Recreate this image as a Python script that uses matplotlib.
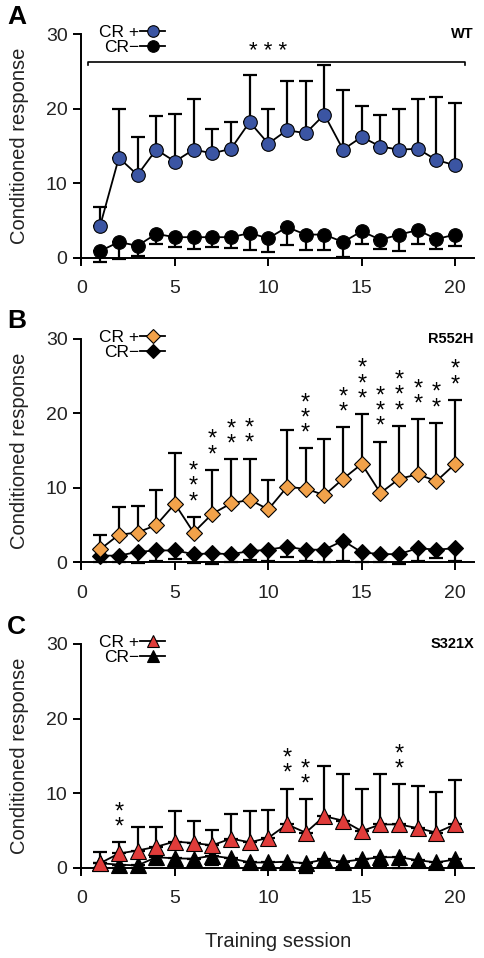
import numpy as np
import matplotlib
matplotlib.use("Agg")
import matplotlib.pyplot as plt
from matplotlib.lines import Line2D

plt.rcParams['font.family'] = ['Liberation Sans', 'DejaVu Sans']

sessions = list(range(1, 21))

# Panel A (WT)
wt_pos = [4.3, 13.4, 11.1, 14.5, 12.9, 14.5, 14.0, 14.6, 18.2, 15.3,
          17.1, 16.7, 19.2, 14.5, 16.2, 14.9, 14.5, 14.6, 13.1, 12.4]
wt_pos_top = [6.8, 20.0, 16.2, 19.0, 19.3, 21.3, 17.3, 18.2, 24.5, 20.0,
              23.7, 23.7, 25.9, 22.5, 20.4, 19.1, 20.0, 21.3, 21.6, 20.7]
wt_neg = [0.9, 2.1, 1.6, 3.2, 2.75, 2.75, 2.75, 2.75, 3.3, 2.6,
          4.1, 3.1, 3.1, 2.1, 3.55, 2.4, 3.1, 3.7, 2.5, 3.1]
wt_neg_bot = [-0.6, -0.2, 0.2, 1.8, 1.4, 1.2, 1.4, 1.3, 1.0, 0.8,
              1.7, 1.0, 1.0, 0.1, 1.9, 1.2, 0.9, 1.9, 1.2, 1.6]

# Panel B (R552H)
r_pos = [1.75, 3.7, 4.0, 5.0, 7.85, 4.0, 6.5, 7.9, 8.4, 7.1,
         10.1, 9.9, 9.0, 11.2, 13.2, 9.3, 11.2, 11.8, 10.9, 13.2]
r_pos_top = [3.7, 7.4, 7.6, 9.7, 14.6, 6.1, 12.4, 13.8, 13.9, 11.0,
             17.8, 15.3, 16.5, 18.1, 19.9, 16.2, 18.3, 19.2, 18.7, 21.8]
r_neg = [0.9, 0.9, 1.4, 1.6, 1.6, 1.1, 1.2, 1.1, 1.5, 1.7,
         2.1, 1.7, 1.7, 2.9, 1.35, 1.1, 1.1, 1.9, 1.7, 1.9]
r_neg_bot = [0.0, 0.0, -0.1, 0.2, 0.5, -0.1, -0.2, 0.0, 0.3, 0.2,
             0.7, 0.2, 0.0, 0.2, 0.0, 0.0, -0.2, 0.2, 0.6, 0.2]
r_stars = {6: 3, 7: 2, 8: 2, 9: 2, 12: 3, 14: 2, 15: 3, 16: 3, 17: 3, 18: 2, 19: 2, 20: 2}

# Panel C (S321X)
s_pos = [0.6, 1.9, 2.3, 2.8, 3.5, 3.3, 3.0, 3.9, 3.4, 4.0,
         5.8, 4.7, 6.9, 6.3, 4.9, 5.8, 5.8, 5.3, 4.7, 5.8]
s_pos_top = [2.1, 3.4, 5.5, 5.5, 7.6, 6.3, 5.1, 7.2, 7.6, 7.8,
             10.6, 9.2, 13.7, 12.5, 10.5, 12.5, 11.2, 11.0, 10.2, 11.7]
s_neg = [0.6, 0.4, 0.3, 1.4, 1.25, 1.2, 1.6, 1.25, 0.7, 0.7,
         0.8, 0.6, 1.1, 0.8, 1.1, 1.4, 1.4, 1.0, 0.7, 1.1]
s_neg_bot = [0.0, 0.0, 0.0, 0.3, 0.2, 0.2, 0.3, 0.3, 0.0, 0.0,
             0.1, -0.7, 0.2, 0.1, 0.2, 0.2, -0.1, 0.2, 0.1, 0.2]
s_stars = {2: 2, 11: 2, 12: 2, 17: 2}

panels = [
    dict(letter='A', name='WT', pos=wt_pos, top=wt_pos_top, neg=wt_neg, bot=wt_neg_bot,
         marker='o', color='#3B55A3', ms=9.8, stars={}, bottom=0.731),
    dict(letter='B', name='R552H', pos=r_pos, top=r_pos_top, neg=r_neg, bot=r_neg_bot,
         marker='D', color='#F2A24A', ms=8.6, stars=r_stars, bottom=0.413),
    dict(letter='C', name='S321X', pos=s_pos, top=s_pos_top, neg=s_neg, bot=s_neg_bot,
         marker='^', color='#E03C3A', ms=11, stars=s_stars, bottom=0.0943),
]

fig = plt.figure(figsize=(4.85, 9.58), dpi=100)

for p in panels:
    ax = fig.add_axes([0.168, p['bottom'], 0.809, 0.2335])
    x = np.array(sessions)
    pos = np.array(p['pos']); top = np.array(p['top'])
    neg = np.array(p['neg']); bot = np.array(p['bot'])
    # CR- (black), error bars downward
    ax.errorbar(x, neg, yerr=[neg - bot, np.zeros_like(neg)], fmt='none',
                ecolor='black', elinewidth=1.6, capsize=5, capthick=1.6, zorder=2)
    ax.plot(x, neg, color='black', lw=1.3, marker=p['marker'], ms=p['ms'],
            mfc='black', mec='black', mew=0.8, zorder=3)
    # CR+ (colour), error bars upward
    ax.errorbar(x, pos, yerr=[np.zeros_like(pos), top - pos], fmt='none',
                ecolor='black', elinewidth=1.6, capsize=5, capthick=1.6, zorder=4)
    ax.plot(x, pos, color='black', lw=1.3, marker=p['marker'], ms=p['ms'],
            mfc=p['color'], mec='black', mew=0.8, zorder=5)

    for s, n in p['stars'].items():
        ax.text(s, top[s - 1] + 0.5, '\n'.join(['*'] * n), ha='center', va='bottom',
                fontsize=17, linespacing=0.6, zorder=6)

    ax.set_xlim(0, 21)
    ax.set_ylim(0, 30)
    ax.set_xticks([0, 5, 10, 15, 20])
    ax.set_yticks([0, 10, 20, 30])
    ax.spines['top'].set_visible(False)
    ax.spines['right'].set_visible(False)
    ax.spines['left'].set_linewidth(1.4)
    ax.spines['bottom'].set_linewidth(1.4)
    ax.spines['left'].set_bounds(-0.7, 30)
    ax.spines['bottom'].set_bounds(-0.3, 21)
    ax.tick_params(axis='both', direction='out', length=6, width=1.4, labelsize=14, pad=4)
    ax.tick_params(axis='x', pad=10)
    for t in ax.get_xticklabels() + ax.get_yticklabels():
        t.set_color('#222222')
    ax.set_ylabel('Conditioned response', fontsize=14.5, labelpad=12, color='#222222')
    for art in ax.lines + ax.collections:
        art.set_clip_on(False)

    handles = [Line2D([], [], color='black', lw=1.3, marker=p['marker'], ms=p['ms'] * 0.85,
                      mfc=p['color'], mec='black', mew=0.8),
               Line2D([], [], color='black', lw=1.3, marker=p['marker'], ms=p['ms'] * 0.85,
                      mfc='black', mec='black', mew=0.8)]
    ax.legend(handles, ['CR +', 'CR\u2212'], loc='upper left', bbox_to_anchor=(0.045, 1.04),
              frameon=False, markerfirst=False, fontsize=12.5, handlelength=1.45,
              handletextpad=0.05, borderpad=0, labelspacing=0.0, borderaxespad=0)

    ax.text(1.0, 1.0, p['name'], transform=ax.transAxes, ha='right', va='center',
            fontsize=10.5, fontweight='bold')
    fig.text(0.015, p['bottom'] + 0.2335 + 0.018, p['letter'], fontsize=19,
             fontweight='bold', ha='left', va='center')

    if p['letter'] == 'A':
        ax.plot([0.35, 0.35, 20.5, 20.5], [25.8, 26.3, 26.3, 25.8], color='black', lw=1.2,
                clip_on=False)
        ax.text(10, 27.6, '* * *', ha='center', va='center', fontsize=16)
    if p['letter'] == 'C':
        ax.set_xlabel('Training session', fontsize=14.5, labelpad=18, color='#222222')

fig.savefig('out.png', dpi=100)
